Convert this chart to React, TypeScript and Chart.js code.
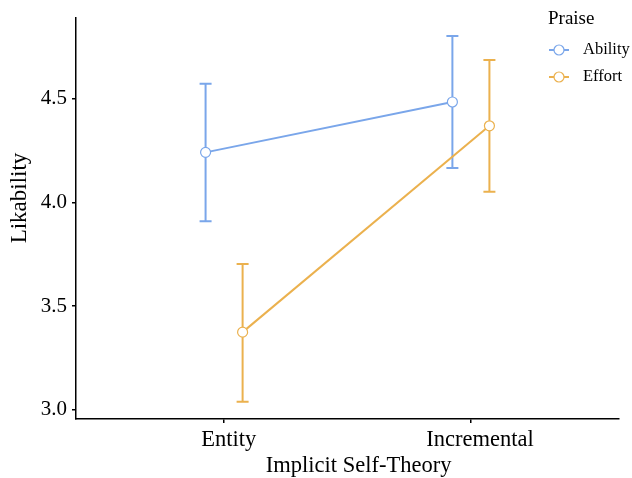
import React, { useEffect, useRef } from "react";
import { Chart, registerables } from "chart.js";

Chart.register(...registerables);

const categories = ["Entity", "Incremental"];
const seriesNames = ["Ability", "Effort"];
const abilityMean = [4.241, 4.484];
const abilityLow = [3.909, 4.166];
const abilityHigh = [4.572, 4.802];
const effortMean = [3.374, 4.369];
const effortLow = [3.038, 4.051];
const effortHigh = [3.702, 4.687];
const yTickValues = [3.0, 3.5, 4.0, 4.5];
const yTickLabels = ["3.0", "3.5", "4.0", "4.5"];
const xTitle = "Implicit Self-Theory";
const yTitle = "Likability";
const legendTitle = "Praise";

const BLUE = "#7AA6EA";
const ORANGE = "#EBB14E";
const FONT = "'Liberation Serif', 'Times New Roman', serif";
const DODGE = 0.075;

export default function App() {
  const ref = useRef<HTMLCanvasElement | null>(null);

  useEffect(() => {
    if (!ref.current) return;
    const series = [
      { name: seriesNames[0], mean: abilityMean, low: abilityLow, high: abilityHigh, color: BLUE, off: -DODGE },
      { name: seriesNames[1], mean: effortMean, low: effortLow, high: effortHigh, color: ORANGE, off: DODGE },
    ];

    const errorBars = {
      id: "errorBars",
      beforeDatasetsDraw(chart: any) {
        const { ctx, scales } = chart;
        const xs = scales.x;
        const ys = scales.y;
        ctx.save();
        series.forEach((s) => {
          ctx.strokeStyle = s.color;
          ctx.lineWidth = 2;
          s.mean.forEach((_, i) => {
            const x = xs.getPixelForValue(i + 1 + s.off);
            const yl = ys.getPixelForValue(s.low[i]);
            const yh = ys.getPixelForValue(s.high[i]);
            ctx.beginPath();
            ctx.moveTo(x, yl);
            ctx.lineTo(x, yh);
            ctx.moveTo(x - 6, yl);
            ctx.lineTo(x + 6, yl);
            ctx.moveTo(x - 6, yh);
            ctx.lineTo(x + 6, yh);
            ctx.stroke();
          });
        });
        ctx.restore();
      },
    };

    const textPlugin = {
      id: "texts",
      afterDraw(chart: any) {
        const { ctx, scales, chartArea } = chart;
        const xs = scales.x;
        ctx.save();
        ctx.fillStyle = "#000";
        ctx.textBaseline = "middle";
        ctx.textAlign = "left";
        // x tick labels
        ctx.font = `22.5px ${FONT}`;
        categories.forEach((c, i) => {
          const w = ctx.measureText(c).width;
          const x = xs.getPixelForValue(i + 1);
          ctx.fillText(c, x - 0.415 * w, 440);
        });
        // x title
        ctx.font = `22.5px ${FONT}`;
        const tw = ctx.measureText(xTitle).width;
        const cx = (chartArea.left + chartArea.right) / 2;
        ctx.fillText(xTitle, cx - 0.44 * tw, 466);
        // y title
        ctx.save();
        ctx.translate(20, 198);
        ctx.rotate(-Math.PI / 2);
        ctx.textAlign = "center";
        ctx.font = `23px ${FONT}`;
        ctx.fillText(yTitle, 0, 0);
        ctx.restore();
        // legend
        ctx.textAlign = "left";
        ctx.font = `19px ${FONT}`;
        ctx.fillText(legendTitle, 548, 19);
        series.forEach((s, i) => {
          const y = 50 + i * 27;
          ctx.strokeStyle = s.color;
          ctx.lineWidth = 2;
          ctx.beginPath();
          ctx.moveTo(549, y);
          ctx.lineTo(569, y);
          ctx.stroke();
          ctx.beginPath();
          ctx.arc(559, y, 5, 0, Math.PI * 2);
          ctx.fillStyle = "#fff";
          ctx.fill();
          ctx.lineWidth = 1.2;
          ctx.stroke();
          ctx.fillStyle = "#000";
          ctx.font = `16.5px ${FONT}`;
          ctx.fillText(s.name, 583, y);
        });
        ctx.restore();
      },
    };

    const chart = new Chart(ref.current, {
      type: "scatter",
      data: {
        datasets: series.map((s) => ({
          label: s.name,
          data: s.mean.map((v, i) => ({ x: i + 1 + s.off, y: v })),
          showLine: true,
          borderColor: s.color,
          borderWidth: 2,
          pointRadius: 5,
          pointBorderWidth: 1.2,
          pointBackgroundColor: "#fff",
          pointBorderColor: s.color,
          backgroundColor: s.color,
        })),
      },
      options: {
        animation: false,
        responsive: false,
        devicePixelRatio: 1,
        layout: { padding: { left: 0, top: 15, right: 13, bottom: 0 } },
        plugins: { legend: { display: false }, tooltip: { enabled: false } },
        scales: {
          x: {
            type: "linear",
            min: 0.4,
            max: 2.6,
            afterBuildTicks: (scale: any) => {
              scale.ticks = categories.map((_, i) => ({ value: i + 1 }));
            },
            afterFit: (scale: any) => {
              scale.height = 59;
            },
            ticks: {
              display: false,
              autoSkip: false,
            },
            grid: { drawOnChartArea: false, drawTicks: true, tickLength: 4, color: "#000", lineWidth: 1.5 },
            border: { display: true, color: "#000", width: 1.5 },
          },
          y: {
            type: "linear",
            min: 2.955,
            max: 4.891,
            afterBuildTicks: (scale: any) => {
              scale.ticks = yTickValues.map((v) => ({ value: v }));
            },
            afterFit: (scale: any) => {
              scale.width = 76;
            },
            ticks: {
              autoSkip: false,
              padding: 5,
              color: "#000",
              font: { family: FONT, size: 21 },
              callback: (_v: any, i: number) => yTickLabels[i],
            },
            grid: { drawOnChartArea: false, drawTicks: true, tickLength: 4, color: "#000", lineWidth: 1.5 },
            border: { display: true, color: "#000", width: 1.5 },
          },
        },
      },
      plugins: [errorBars, textPlugin],
    });
    return () => chart.destroy();
  }, []);

  return (
    <div style={{ position: "fixed", left: 0, top: 0, width: 632, height: 478, background: "#fff" }}>
      <canvas ref={ref} width={632} height={478} style={{ width: 632, height: 478, display: "block" }} />
    </div>
  );
}
